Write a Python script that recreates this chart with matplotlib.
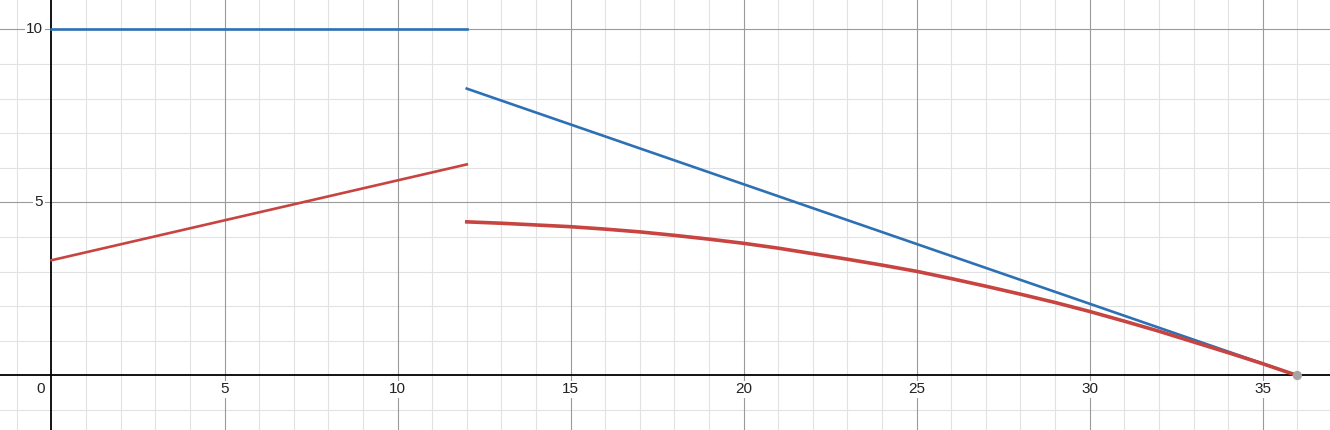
import numpy as np
import matplotlib.pyplot as plt

# blue piece 1: constant
blue1_x = [0, 12]
blue1_y = [10, 10]
# blue piece 2: straight line down to the end point
blue2_x = [12, 36]
blue2_y = [8.29, 0]
# red piece 1: straight line
red1_x = [0, 12]
red1_y = [3.33, 6.1]
# red piece 2: curve
red2_x = [12, 13, 14, 15, 16, 17, 18, 19, 20, 21, 22, 23, 24,
          25, 26, 27, 28, 29, 30, 31, 32, 33, 34, 35, 36]
red2_y = [4.44, 4.40, 4.35, 4.30, 4.23, 4.15, 4.05, 3.94, 3.82, 3.68, 3.52, 3.36, 3.19,
          3.01, 2.80, 2.58, 2.35, 2.11, 1.85, 1.57, 1.28, 0.97, 0.66, 0.34, 0.0]
end_x = [36]
end_y = [0]

x_ticks = [5, 10, 15, 20, 25, 30, 35]
y_ticks = [5, 10]

blue = '#2d70b3'
red = '#c74440'

plt.rcParams['font.family'] = ['Liberation Sans', 'DejaVu Sans']

fig = plt.figure(figsize=(13.3, 4.3), dpi=100)
ax = fig.add_axes([0, 0, 1, 1])
ax.set_xlim(-1.488, 36.944)
ax.set_ylim(-1.575, 10.851)
for s in ax.spines.values():
    s.set_visible(False)
ax.set_xticks([])
ax.set_yticks([])

# grid
for gx in range(-1, 37):
    if gx == 0:
        continue
    major = gx % 5 == 0
    ax.axvline(gx, color='#9a9a9a' if major else '#e2e2e2', lw=0.8, zorder=1 if major else 0)
for gy in range(-1, 11):
    if gy == 0:
        continue
    major = gy % 5 == 0
    ax.axhline(gy, color='#9a9a9a' if major else '#e2e2e2', lw=0.8, zorder=1 if major else 0)
ax.axhline(0, color='black', lw=1.3, zorder=2)
ax.axvline(0, color='black', lw=1.3, zorder=2)

# tick labels
box = dict(facecolor='white', edgecolor='none', pad=1)
for t in x_ticks:
    ax.annotate(str(t), (t, 0), xytext=(0, -5), textcoords='offset points',
                ha='center', va='top', fontsize=11, color='#222222', bbox=box, zorder=3)
for t in y_ticks:
    ax.annotate(str(t), (0, t), xytext=(-6, 0), textcoords='offset points',
                ha='right', va='center', fontsize=11, color='#222222', bbox=box, zorder=3)
ax.annotate('0', (0, 0), xytext=(-5, -5), textcoords='offset points',
            ha='right', va='top', fontsize=11, color='#222222', zorder=3)

# curves
ax.plot(blue1_x, blue1_y, color=blue, lw=1.9, zorder=4)
ax.plot(blue2_x, blue2_y, color=blue, lw=1.9, zorder=4)
ax.plot(red1_x, red1_y, color=red, lw=1.9, zorder=5)
ax.plot(red2_x, red2_y, color=red, lw=2.6, zorder=5)
ax.scatter(end_x, end_y, s=45, color='#a5a5a5', zorder=6, edgecolors='none', clip_on=False)

plt.savefig('out.png', dpi=100)
